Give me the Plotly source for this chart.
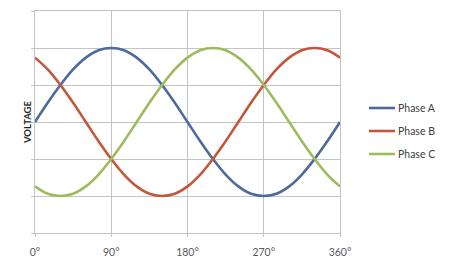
import plotly.graph_objects as go

angles = [0, 15, 30, 45, 60, 75, 90, 105, 120, 135, 150, 165, 180, 195, 210, 225, 240, 255,
          270, 285, 300, 315, 330, 345, 360]
phase_a = [0.0, 0.26, 0.5, 0.71, 0.87, 0.97, 1.0, 0.97, 0.87, 0.71, 0.5, 0.26, 0.0, -0.26,
           -0.5, -0.71, -0.87, -0.97, -1.0, -0.97, -0.87, -0.71, -0.5, -0.26, 0.0]
phase_b = [0.87, 0.71, 0.5, 0.26, 0.0, -0.26, -0.5, -0.71, -0.87, -0.97, -1.0, -0.97, -0.87,
           -0.71, -0.5, -0.26, 0.0, 0.26, 0.5, 0.71, 0.87, 0.97, 1.0, 0.97, 0.87]
phase_c = [-0.87, -0.97, -1.0, -0.97, -0.87, -0.71, -0.5, -0.26, 0.0, 0.26, 0.5, 0.71, 0.87,
           0.97, 1.0, 0.97, 0.87, 0.71, 0.5, 0.26, 0.0, -0.26, -0.5, -0.71, -0.87]
series_names = ["Phase A", "Phase B", "Phase C"]
series_colors = ["#4D6A9E", "#C2573B", "#9DBB5C"]
tick_vals = [0, 90, 180, 270, 360]
tick_text = ["0°", "90°", "180°", "270°", "360°"]

font_family = "Lato, 'Open Sans', sans-serif"
grid = "#C4C4C4"

W, H = 450, 264
L, R, T, B = 35, 110, 11, 31
pw = W - L - R
ph = H - T - B


def px_x(px):
    return (px - L) / pw


def px_y(py):
    return (H - B - py) / ph


fig = go.Figure()
for i, (name, ys) in enumerate(zip(series_names, [phase_a, phase_b, phase_c])):
    fig.add_trace(go.Scatter(
        x=angles, y=ys, name=name, mode="lines",
        line=dict(color=series_colors[i], width=2.6, shape="spline", smoothing=1.0),
    ))

# legend drawn in the right margin (line sample + label)
legend_y_px = [108, 131, 154]
shapes = []
annotations = []
for name, color, py in zip(series_names, series_colors, legend_y_px):
    shapes.append(dict(type="line", xref="paper", yref="paper",
                       x0=px_x(369), x1=px_x(395), y0=px_y(py), y1=px_y(py),
                       line=dict(color=color, width=2.6)))
    annotations.append(dict(text=name, xref="paper", yref="paper",
                            x=px_x(396), y=px_y(py), xanchor="left", yanchor="middle",
                            showarrow=False,
                            font=dict(family=font_family, size=10.5, color="#404040")))

annotations.append(dict(
    text="<b>VOLTAGE</b>", textangle=-90,
    xref="paper", yref="paper",
    x=px_x(28), y=px_y(123),
    xanchor="center", yanchor="middle", showarrow=False,
    font=dict(family=font_family, size=9.5, color="#262626"),
))

fig.update_layout(
    width=W, height=H,
    margin=dict(l=L, r=R, t=T, b=B, pad=0),
    paper_bgcolor="white", plot_bgcolor="white",
    font=dict(family=font_family, size=10.5, color="#595959"),
    showlegend=False,
    xaxis=dict(
        range=[0, 360], tickvals=tick_vals, ticktext=tick_text,
        showgrid=True, gridcolor=grid, gridwidth=1,
        showline=True, linecolor=grid, linewidth=1, mirror=True,
        ticks="outside", ticklen=3, tickcolor=grid,
        ticklabelstandoff=6, automargin=False,
        zeroline=False, fixedrange=True,
        tickfont=dict(family=font_family, size=10.5, color="#595959"),
    ),
    yaxis=dict(
        range=[-1.5, 1.5], dtick=0.5, tick0=-1.5,
        showticklabels=False, automargin=False,
        showgrid=True, gridcolor=grid, gridwidth=1,
        showline=True, linecolor=grid, linewidth=1, mirror=True,
        ticks="outside", ticklen=3, tickcolor=grid,
        zeroline=False, fixedrange=True,
    ),
    shapes=shapes,
    annotations=annotations,
)

fig.write_html("out.html")
